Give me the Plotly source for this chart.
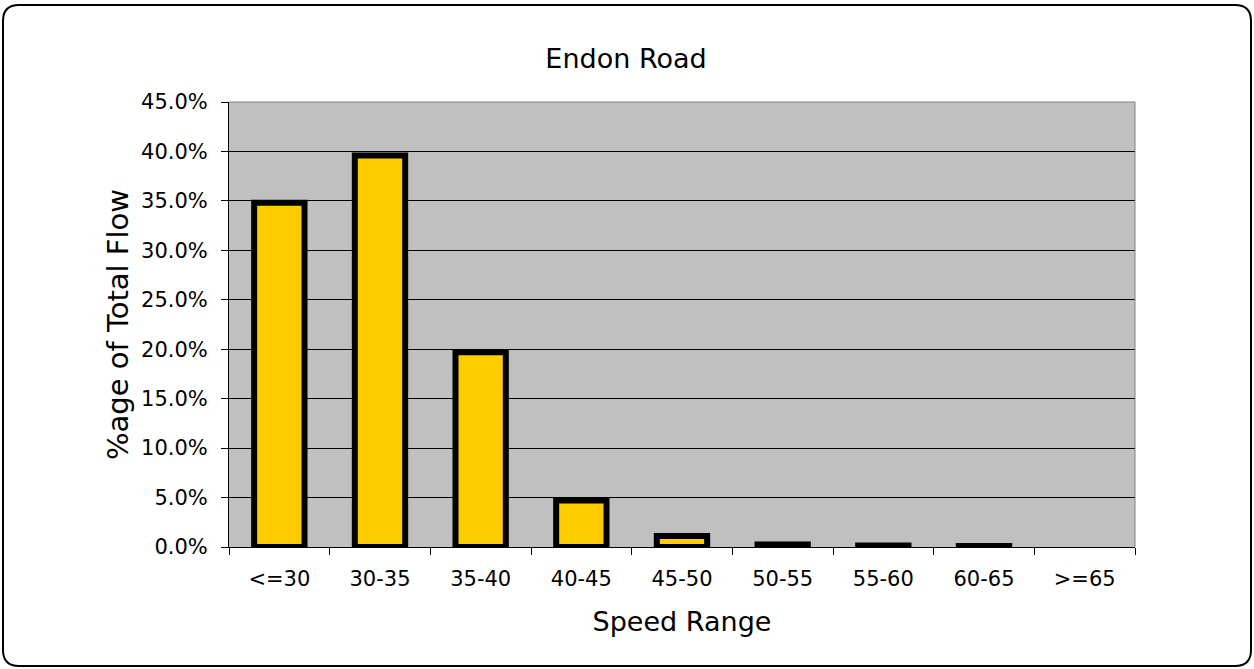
import plotly.graph_objects as go

categories = ["<=30", "30-35", "35-40", "40-45", "45-50", "50-55", "55-60", "60-65", ">=65"]
pct_flow = [34.8, 39.6, 19.7, 4.7, 1.1, 0.25, 0.15, 0.1, 0.0]
y_ticks = [0, 5, 10, 15, 20, 25, 30, 35, 40, 45]

W, H = 1254, 669
L, R, T, B = 229, 119, 102, 122
PW, PH = W - L - R, H - T - B

FONT = "DejaVu Sans"

fig = go.Figure(go.Bar(
    x=categories, y=pct_flow,
    marker=dict(color="#FFCC00",
                line=dict(color="#000000", width=[6 if v > 0 else 0 for v in pct_flow])),
))


def px(x):
    return (x - L) / PW


def py(y):
    return (H - B - y) / PH


# rounded outer border (decorative frame)
x0, x1, y0, y1, r = 3, 1251, 5, 666, 16
path = (
    f"M {px(x0 + r)},{py(y0)} L {px(x1 - r)},{py(y0)} "
    f"Q {px(x1)},{py(y0)} {px(x1)},{py(y0 + r)} "
    f"L {px(x1)},{py(y1 - r)} "
    f"Q {px(x1)},{py(y1)} {px(x1 - r)},{py(y1)} "
    f"L {px(x0 + r)},{py(y1)} "
    f"Q {px(x0)},{py(y1)} {px(x0)},{py(y1 - r)} "
    f"L {px(x0)},{py(y0 + r)} "
    f"Q {px(x0)},{py(y0)} {px(x0 + r)},{py(y0)} Z"
)

fig.update_layout(
    width=W, height=H,
    margin=dict(l=L, r=R, t=T, b=B, autoexpand=False),
    paper_bgcolor="white",
    plot_bgcolor="#C0C0C0",
    bargap=0.5,
    showlegend=False,
    font=dict(family=FONT, size=21, color="#000000"),
    title=dict(text="Endon Road", x=626 / W, xanchor="center", y=1 - 59 / H, yanchor="middle",
               font=dict(family=FONT, size=27, color="#000000")),
    xaxis=dict(
        type="category", tickson="boundaries", ticks="outside", ticklen=7, tickcolor="#000000",
        showline=True, linecolor="#000000", linewidth=1, showgrid=False,
        tickfont=dict(size=21), ticklabelstandoff=13,
        title=dict(text="Speed Range", font=dict(size=27), standoff=21),
    ),
    yaxis=dict(
        range=[0, 45], tickvals=y_ticks, ticktext=[f"{v:.1f}%" for v in y_ticks],
        ticks="outside", ticklen=7, tickcolor="#000000",
        showline=True, linecolor="#000000", linewidth=1,
        showgrid=True, gridcolor="#000000", gridwidth=1, zeroline=False,
        tickfont=dict(size=21), ticklabelstandoff=9,
        title=dict(text="%age of Total Flow", font=dict(size=29), standoff=3),
    ),
    shapes=[
        dict(type="path", xref="paper", yref="paper", path=path,
             line=dict(color="#000000", width=2), fillcolor="rgba(0,0,0,0)", layer="above"),
        dict(type="line", xref="paper", yref="paper", x0=0, x1=1, y0=1, y1=1,
             line=dict(color="#808080", width=1), layer="above"),
        dict(type="line", xref="paper", yref="paper", x0=1, x1=1, y0=0, y1=1,
             line=dict(color="#808080", width=1), layer="above"),
    ],
)

fig.write_html("out.html", config={"displayModeBar": False},
               post_script="document.body.style.margin='0px';")
